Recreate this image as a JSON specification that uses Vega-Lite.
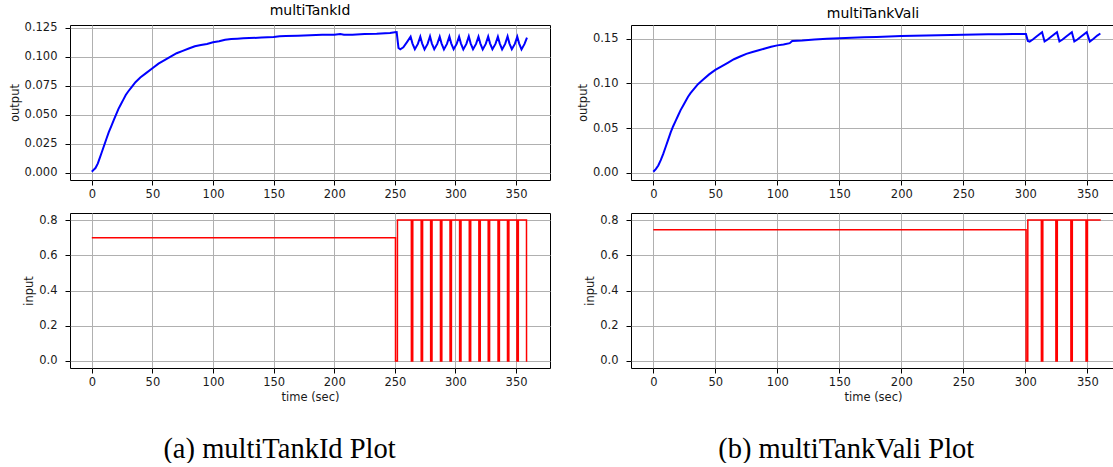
{
  "$schema": "https://vega.github.io/schema/vega-lite/v6.json",
  "background": "white",
  "padding": {"left": 8, "top": 3, "right": 0, "bottom": 0},
  "spacing": 25,
  "config": {
    "font": "DejaVu Sans",
    "view": {"stroke": "#000000", "strokeWidth": 1},
    "axis": {
      "grid": true, "gridColor": "#b0b0b0", "gridWidth": 1, "domain": false,
      "tickColor": "#000000", "tickSize": 5, "tickWidth": 1,
      "labelFont": "DejaVu Sans", "labelFontSize": 11.5, "labelColor": "#1a1a1a",
      "labelFlush": false, "labelOverlap": false,
      "titleFont": "DejaVu Sans", "titleFontSize": 11.5, "titleFontWeight": "normal", "titleColor": "#1a1a1a"
    },
    "axisY": {"labelPadding": 8, "titlePadding": 4},
    "axisX": {"labelPadding": 3, "titlePadding": 4},
    "title": {"font": "DejaVu Sans", "fontSize": 14, "fontWeight": "normal", "color": "#000000", "offset": 4}
  },
  "datasets": {
    "lo": [
      {"t": 0, "y": 0.0008}, {"t": 1, "y": 0.002}, {"t": 2, "y": 0.003}, {"t": 3, "y": 0.004}, {"t": 4, "y": 0.006},
      {"t": 5, "y": 0.008}, {"t": 6, "y": 0.011}, {"t": 8, "y": 0.017}, {"t": 10, "y": 0.023}, {"t": 12, "y": 0.029},
      {"t": 14, "y": 0.035}, {"t": 16, "y": 0.040}, {"t": 18, "y": 0.045}, {"t": 20, "y": 0.050}, {"t": 22, "y": 0.055},
      {"t": 24, "y": 0.059}, {"t": 26, "y": 0.063}, {"t": 28, "y": 0.067}, {"t": 30, "y": 0.070}, {"t": 33, "y": 0.074},
      {"t": 36, "y": 0.078}, {"t": 40, "y": 0.082}, {"t": 45, "y": 0.086}, {"t": 50, "y": 0.090}, {"t": 55, "y": 0.094},
      {"t": 60, "y": 0.097}, {"t": 65, "y": 0.100}, {"t": 70, "y": 0.103}, {"t": 75, "y": 0.105}, {"t": 80, "y": 0.107},
      {"t": 85, "y": 0.109}, {"t": 90, "y": 0.110}, {"t": 95, "y": 0.111}, {"t": 100, "y": 0.1125}, {"t": 105, "y": 0.1133},
      {"t": 110, "y": 0.1145}, {"t": 115, "y": 0.1152}, {"t": 120, "y": 0.1155}, {"t": 125, "y": 0.1158}, {"t": 130, "y": 0.116},
      {"t": 140, "y": 0.1165}, {"t": 150, "y": 0.117}, {"t": 155, "y": 0.1175}, {"t": 160, "y": 0.1178}, {"t": 170, "y": 0.118},
      {"t": 180, "y": 0.1184}, {"t": 190, "y": 0.1188}, {"t": 200, "y": 0.119}, {"t": 205, "y": 0.1195}, {"t": 208, "y": 0.119},
      {"t": 215, "y": 0.119}, {"t": 225, "y": 0.1195}, {"t": 235, "y": 0.1198}, {"t": 242, "y": 0.1202}, {"t": 246, "y": 0.1205},
      {"t": 250, "y": 0.121}, {"t": 251.5, "y": 0.1212}, {"t": 253, "y": 0.1075}, {"t": 254.5, "y": 0.1063}, {"t": 257, "y": 0.108},
      {"t": 260, "y": 0.1125}, {"t": 263, "y": 0.1172}, {"t": 264.5, "y": 0.1115}, {"t": 266.5, "y": 0.1065}, {"t": 269, "y": 0.111},
      {"t": 271, "y": 0.1172}, {"t": 272.5, "y": 0.1115}, {"t": 274.5, "y": 0.1063}, {"t": 277, "y": 0.111},
      {"t": 279, "y": 0.1175}, {"t": 280.5, "y": 0.1115}, {"t": 282.5, "y": 0.1065}, {"t": 285, "y": 0.111},
      {"t": 287, "y": 0.1172}, {"t": 288.5, "y": 0.1115}, {"t": 290.5, "y": 0.1063}, {"t": 293, "y": 0.111},
      {"t": 295, "y": 0.1174}, {"t": 296.5, "y": 0.1115}, {"t": 298.5, "y": 0.1065}, {"t": 301, "y": 0.111},
      {"t": 303, "y": 0.1172}, {"t": 304.5, "y": 0.1115}, {"t": 306.5, "y": 0.1063}, {"t": 309, "y": 0.111},
      {"t": 311, "y": 0.1175}, {"t": 312.5, "y": 0.1115}, {"t": 314.5, "y": 0.1065}, {"t": 317, "y": 0.111},
      {"t": 319, "y": 0.1172}, {"t": 320.5, "y": 0.1115}, {"t": 322.5, "y": 0.1063}, {"t": 325, "y": 0.111},
      {"t": 327, "y": 0.1174}, {"t": 328.5, "y": 0.1115}, {"t": 330.5, "y": 0.1065}, {"t": 333, "y": 0.111},
      {"t": 335, "y": 0.1172}, {"t": 336.5, "y": 0.1115}, {"t": 338.5, "y": 0.1063}, {"t": 341, "y": 0.111},
      {"t": 343, "y": 0.1175}, {"t": 344.5, "y": 0.1115}, {"t": 346.5, "y": 0.1065}, {"t": 349, "y": 0.111},
      {"t": 351, "y": 0.1172}, {"t": 352.5, "y": 0.1115}, {"t": 354.5, "y": 0.1063}, {"t": 357, "y": 0.111},
      {"t": 359, "y": 0.1165}
    ],
    "li": [
      {"t": 0, "v": 0.7}, {"t": 250.5, "v": 0.7}, {"t": 250.55, "v": 0}, {"t": 252.1, "v": 0}, {"t": 252.15, "v": 0.8},
      {"t": 263.6, "v": 0.8}, {"t": 263.65, "v": 0}, {"t": 264.75, "v": 0}, {"t": 264.8, "v": 0.8},
      {"t": 271.7, "v": 0.8}, {"t": 271.75, "v": 0}, {"t": 272.85, "v": 0}, {"t": 272.9, "v": 0.8},
      {"t": 279.5, "v": 0.8}, {"t": 279.55, "v": 0}, {"t": 280.65, "v": 0}, {"t": 280.7, "v": 0.8},
      {"t": 287.6, "v": 0.8}, {"t": 287.65, "v": 0}, {"t": 288.75, "v": 0}, {"t": 288.8, "v": 0.8},
      {"t": 295.5, "v": 0.8}, {"t": 295.55, "v": 0}, {"t": 296.65, "v": 0}, {"t": 296.7, "v": 0.8},
      {"t": 303.4, "v": 0.8}, {"t": 303.45, "v": 0}, {"t": 304.55, "v": 0}, {"t": 304.6, "v": 0.8},
      {"t": 311.4, "v": 0.8}, {"t": 311.45, "v": 0}, {"t": 312.55, "v": 0}, {"t": 312.6, "v": 0.8},
      {"t": 319.3, "v": 0.8}, {"t": 319.35, "v": 0}, {"t": 320.45, "v": 0}, {"t": 320.5, "v": 0.8},
      {"t": 327.0, "v": 0.8}, {"t": 327.05, "v": 0}, {"t": 328.15, "v": 0}, {"t": 328.2, "v": 0.8},
      {"t": 335.1, "v": 0.8}, {"t": 335.15, "v": 0}, {"t": 336.25, "v": 0}, {"t": 336.3, "v": 0.8},
      {"t": 342.9, "v": 0.8}, {"t": 342.95, "v": 0}, {"t": 344.05, "v": 0}, {"t": 344.1, "v": 0.8},
      {"t": 350.7, "v": 0.8}, {"t": 350.75, "v": 0}, {"t": 351.85, "v": 0}, {"t": 351.9, "v": 0.8},
      {"t": 358.6, "v": 0.8}, {"t": 358.65, "v": 0}, {"t": 359.3, "v": 0}
    ],
    "ro": [
      {"t": 0, "y": 0.001}, {"t": 2, "y": 0.004}, {"t": 4, "y": 0.008}, {"t": 6, "y": 0.014}, {"t": 8, "y": 0.021},
      {"t": 10, "y": 0.029}, {"t": 12, "y": 0.037}, {"t": 14, "y": 0.045}, {"t": 16, "y": 0.052}, {"t": 18, "y": 0.058},
      {"t": 20, "y": 0.064}, {"t": 22, "y": 0.070}, {"t": 24, "y": 0.075}, {"t": 26, "y": 0.080}, {"t": 28, "y": 0.085},
      {"t": 30, "y": 0.089}, {"t": 33, "y": 0.094}, {"t": 36, "y": 0.099}, {"t": 40, "y": 0.104}, {"t": 45, "y": 0.110},
      {"t": 50, "y": 0.115}, {"t": 55, "y": 0.119}, {"t": 60, "y": 0.123}, {"t": 65, "y": 0.127}, {"t": 70, "y": 0.130},
      {"t": 75, "y": 0.133}, {"t": 80, "y": 0.135}, {"t": 85, "y": 0.137}, {"t": 90, "y": 0.139}, {"t": 95, "y": 0.141},
      {"t": 100, "y": 0.1425}, {"t": 105, "y": 0.1435}, {"t": 110, "y": 0.145}, {"t": 112, "y": 0.1475}, {"t": 120, "y": 0.148},
      {"t": 130, "y": 0.149}, {"t": 140, "y": 0.150}, {"t": 150, "y": 0.1505}, {"t": 160, "y": 0.151}, {"t": 170, "y": 0.1515},
      {"t": 180, "y": 0.152}, {"t": 190, "y": 0.1525}, {"t": 200, "y": 0.153}, {"t": 210, "y": 0.1533}, {"t": 220, "y": 0.1536},
      {"t": 230, "y": 0.1538}, {"t": 240, "y": 0.154}, {"t": 250, "y": 0.1545}, {"t": 260, "y": 0.1548}, {"t": 270, "y": 0.155},
      {"t": 280, "y": 0.155}, {"t": 290, "y": 0.1552}, {"t": 298, "y": 0.1553}, {"t": 300.5, "y": 0.1553},
      {"t": 302, "y": 0.1475}, {"t": 303.5, "y": 0.1467}, {"t": 306, "y": 0.149}, {"t": 309, "y": 0.1525},
      {"t": 313.5, "y": 0.1572}, {"t": 315.5, "y": 0.1468}, {"t": 318, "y": 0.149}, {"t": 321, "y": 0.1525},
      {"t": 325.5, "y": 0.1572}, {"t": 327.5, "y": 0.1468}, {"t": 330, "y": 0.149}, {"t": 333, "y": 0.1525},
      {"t": 337.5, "y": 0.1572}, {"t": 339.5, "y": 0.1468}, {"t": 342, "y": 0.149}, {"t": 345, "y": 0.1525},
      {"t": 349.5, "y": 0.1572}, {"t": 352, "y": 0.1468}, {"t": 355, "y": 0.15}, {"t": 358, "y": 0.1535},
      {"t": 360.5, "y": 0.1558}
    ],
    "ri": [
      {"t": 0, "v": 0.745}, {"t": 300.6, "v": 0.745}, {"t": 300.65, "v": 0}, {"t": 301.95, "v": 0}, {"t": 302, "v": 0.8},
      {"t": 312.9, "v": 0.8}, {"t": 312.95, "v": 0}, {"t": 314.05, "v": 0}, {"t": 314.1, "v": 0.8},
      {"t": 324.6, "v": 0.8}, {"t": 324.65, "v": 0}, {"t": 325.75, "v": 0}, {"t": 325.8, "v": 0.8},
      {"t": 336.7, "v": 0.8}, {"t": 336.75, "v": 0}, {"t": 337.85, "v": 0}, {"t": 337.9, "v": 0.8},
      {"t": 348.9, "v": 0.8}, {"t": 348.95, "v": 0}, {"t": 350.05, "v": 0}, {"t": 350.1, "v": 0.8},
      {"t": 360.8, "v": 0.8}
    ]
  },
  "hconcat": [
    {
      "spacing": 12,
      "title": {"text": "(a) multiTankId Plot", "orient": "bottom", "anchor": "middle", "font": "Liberation Serif", "fontSize": 28.5, "fontWeight": "normal", "color": "#000000", "offset": 31},
      "vconcat": [
        {
          "title": "multiTankId",
          "width": 480, "height": 155,
          "data": {"name": "lo"},
          "mark": {"type": "line", "color": "#0000ff", "strokeWidth": 2},
          "encoding": {
            "x": {"field": "t", "type": "quantitative", "scale": {"domain": [-18, 378], "nice": false, "zero": false},
                  "axis": {"values": [0, 50, 100, 150, 200, 250, 300, 350], "format": "d", "title": null}},
            "y": {"field": "y", "type": "quantitative", "scale": {"domain": [-0.0063, 0.1273], "nice": false, "zero": false},
                  "axis": {"values": [0, 0.025, 0.05, 0.075, 0.1, 0.125], "format": ".3f", "title": "output"}}
          }
        },
        {
          "width": 480, "height": 155,
          "data": {"name": "li"},
          "mark": {"type": "line", "color": "#ff0000", "strokeWidth": 1.5},
          "encoding": {
            "x": {"field": "t", "type": "quantitative", "scale": {"domain": [-18, 378], "nice": false, "zero": false},
                  "axis": {"values": [0, 50, 100, 150, 200, 250, 300, 350], "format": "d", "title": "time (sec)"}},
            "y": {"field": "v", "type": "quantitative", "scale": {"domain": [-0.04, 0.84], "nice": false, "zero": false},
                  "axis": {"values": [0, 0.2, 0.4, 0.6, 0.8], "format": ".1f", "title": "input"}}
          }
        }
      ]
    },
    {
      "spacing": 12,
      "title": {"text": "(b) multiTankVali Plot", "orient": "bottom", "anchor": "middle", "font": "Liberation Serif", "fontSize": 28.5, "fontWeight": "normal", "color": "#000000", "offset": 31},
      "vconcat": [
        {
          "title": "multiTankVali",
          "width": 484, "height": 155,
          "data": {"name": "ro"},
          "mark": {"type": "line", "color": "#0000ff", "strokeWidth": 2},
          "encoding": {
            "x": {"field": "t", "type": "quantitative", "scale": {"domain": [-18, 372.3], "nice": false, "zero": false},
                  "axis": {"values": [0, 50, 100, 150, 200, 250, 300, 350], "format": "d", "title": null}},
            "y": {"field": "y", "type": "quantitative", "scale": {"domain": [-0.0082, 0.1653], "nice": false, "zero": false},
                  "axis": {"values": [0, 0.05, 0.1, 0.15], "format": ".2f", "title": "output"}}
          }
        },
        {
          "width": 484, "height": 155,
          "data": {"name": "ri"},
          "mark": {"type": "line", "color": "#ff0000", "strokeWidth": 1.5},
          "encoding": {
            "x": {"field": "t", "type": "quantitative", "scale": {"domain": [-18, 372.3], "nice": false, "zero": false},
                  "axis": {"values": [0, 50, 100, 150, 200, 250, 300, 350], "format": "d", "title": "time (sec)"}},
            "y": {"field": "v", "type": "quantitative", "scale": {"domain": [-0.04, 0.84], "nice": false, "zero": false},
                  "axis": {"values": [0, 0.2, 0.4, 0.6, 0.8], "format": ".1f", "title": "input"}}
          }
        }
      ]
    }
  ]
}
